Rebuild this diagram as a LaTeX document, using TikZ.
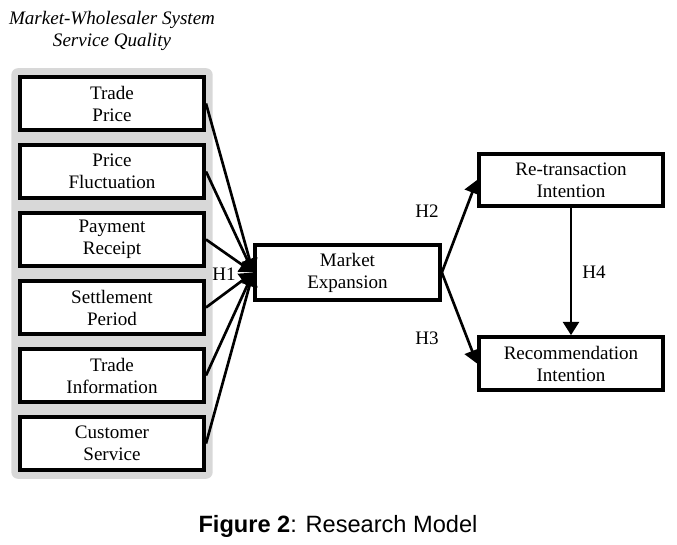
\documentclass[tikz,border=0pt]{standalone}
\usepackage{fontspec}
\setmainfont{Liberation Serif}
\newfontfamily\captionfont{Liberation Sans}
\usepackage{tikz}
\usetikzlibrary{arrows.meta, positioning, fit, backgrounds}
\definecolor{ink}{RGB}{0,0,0}
\definecolor{groupFill}{RGB}{216,216,216}
\newcommand{\boxfont}{\fontsize{14.3}{16.5}\selectfont}
\tikzset{
  nodebox/.style={
    draw=ink,
    line width=3pt,
    align=center,
    fill=white,
    inner sep=2pt,
    font=\boxfont
  },
  factorNode/.style={nodebox, minimum width=138pt, minimum height=40pt},
  mediatorNode/.style={nodebox, minimum width=138.5pt, minimum height=41pt},
  outcomeNode/.style={nodebox, minimum width=138pt, minimum height=39.5pt},
  group/.style={fill=groupFill, rounded corners=5pt, inner sep=5pt},
  effect/.style={-{Triangle[length=10pt,width=12pt]}, line width=2pt, draw=ink},
  hlabel/.style={font=\boxfont, inner sep=0pt},
  titleText/.style={font=\boxfont\itshape, align=center, inner sep=0pt},
  captionText/.style={font=\captionfont\fontsize{17.7}{20}\selectfont, inner sep=0pt}
}
\begin{document}
\begin{tikzpicture}[x=0.75pt, y=-0.75pt]
  \useasboundingbox (0,0) rectangle (677,545);

  \node[titleText] (title) at (112,31) {Market-Wholesaler System\\Service Quality};

  \node[factorNode] (price) at (112,103.5) {Trade\\Price};
  \node[factorNode, below=8pt of price] (fluct) {Price\\Fluctuation};
  \node[factorNode, below=8pt of fluct] (payment) {Payment\\Receipt};
  \node[factorNode, below=8pt of payment] (settle) {Settlement\\Period};
  \node[factorNode, below=8pt of settle] (info) {Trade\\Information};
  \node[factorNode, below=8pt of info] (service) {Customer\\Service};

  \begin{scope}[on background layer]
    \node[group, fit=(price)(service)] (quality) {};
  \end{scope}

  \node[mediatorNode] (market) at (347.5,272.5) {Market\\Expansion};
  \node[outcomeNode] (retrans) at (571,180) {Re-transaction\\Intention};
  \node[outcomeNode] (recommend) at (571,363.5) {Recommendation\\Intention};

  \foreach \f in {price,fluct,payment,settle,info,service}
    \draw[effect] (\f.east) -- (market.west);
  \draw[effect] (market.east) -- (retrans.west);
  \draw[effect] (market.east) -- (recommend.west);
  \draw[effect] (retrans) -- (recommend);

  \node[hlabel] (h1) at (224,274) {H1};
  \node[hlabel] (h2) at (427,211) {H2};
  \node[hlabel] (h3) at (427,338) {H3};
  \node[hlabel] (h4) at (594,272) {H4};

  \node[captionText] (caption) at (338,526) {\textbf{Figure 2}: Research Model};
\end{tikzpicture}
\end{document}
